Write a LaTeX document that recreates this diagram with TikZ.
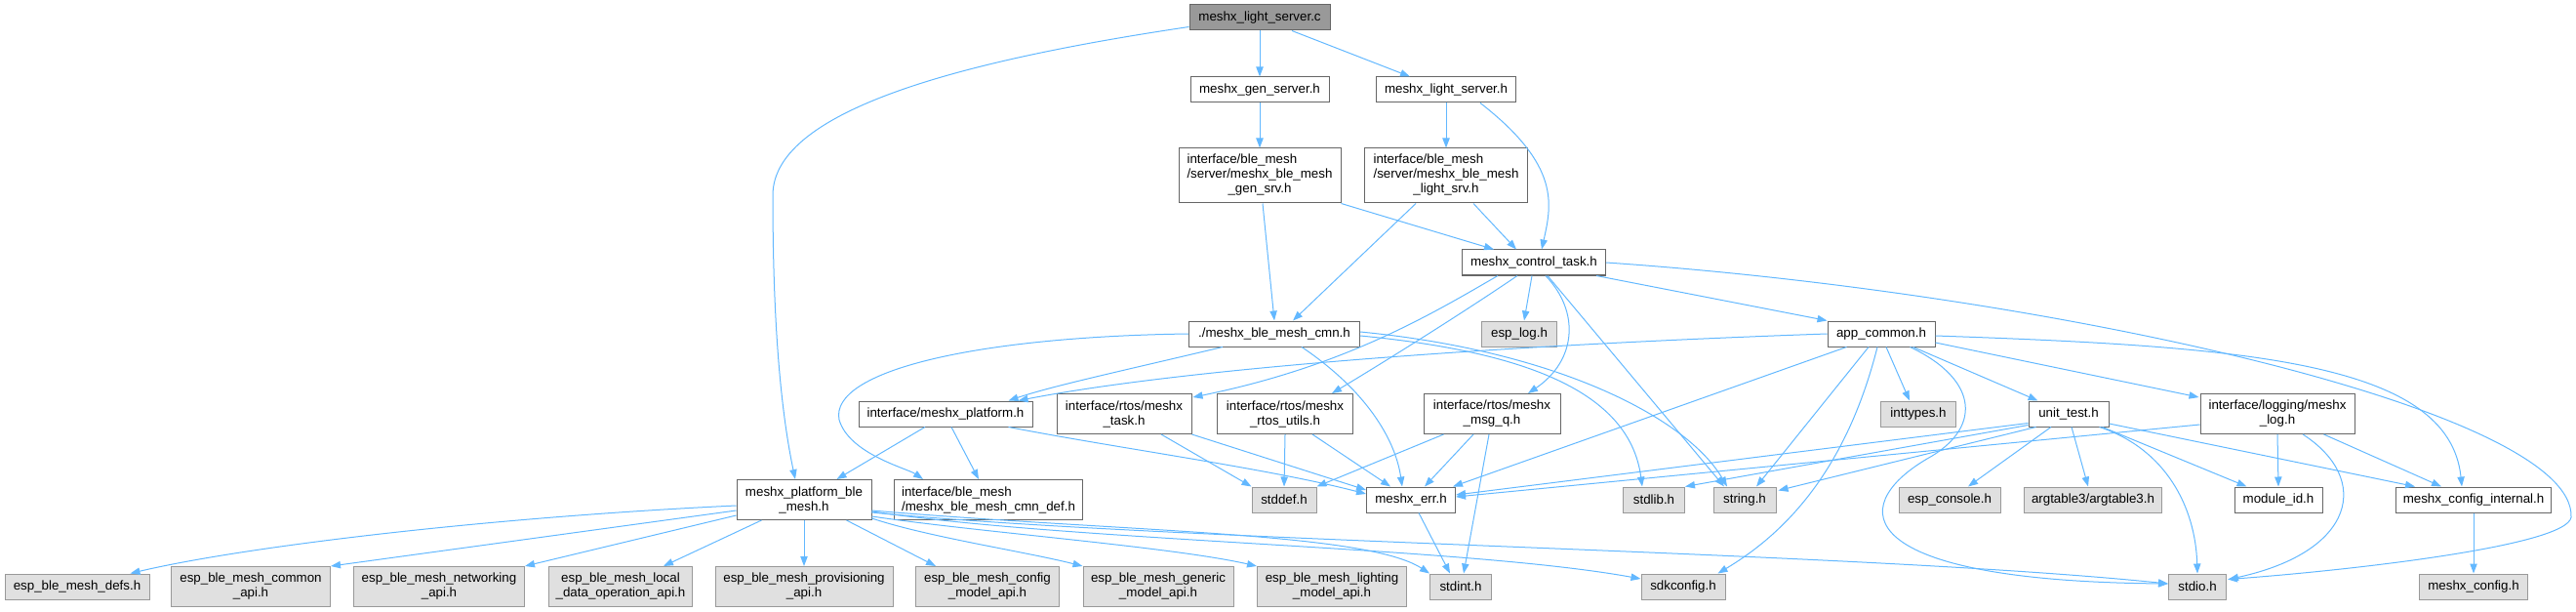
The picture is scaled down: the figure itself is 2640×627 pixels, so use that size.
\documentclass[tikz,border=0pt]{standalone}
\usepackage{fontspec}
\setmainfont{Liberation Sans}
\usetikzlibrary{arrows.meta,calc}
\definecolor{edgec}{HTML}{63B8FF}
\definecolor{bord}{HTML}{666666}
\definecolor{gbord}{HTML}{999999}
\definecolor{gfill}{HTML}{E0E0E0}
\definecolor{rootfill}{HTML}{999999}
\begin{document}
\begin{tikzpicture}[x=0.75pt,y=-0.75pt,
  base/.style={rectangle, line width=0.75pt, inner sep=0pt, minimum height=19.5pt,
    font=\fontsize{10}{11.25}\selectfont, align=center, text=black},
  wbox/.style={base, draw=bord, fill=white},
  gbox/.style={base, draw=gbord, fill=gfill},
  rootbox/.style={base, draw=bord, fill=rootfill},
  two/.style={minimum height=30.75pt},
  three/.style={minimum height=42pt},
  edge/.style={draw=edgec, line width=0.75pt, -{Triangle[length=7.5pt,width=5.5pt]}},
]
\useasboundingbox (0,0) rectangle (2640,627);

% ---------- nodes ----------
\node[rootbox, minimum width=108pt] (c) at (1291,18) {meshx\_light\_server.c};
\node[wbox, minimum width=106.5pt] (gens) at (1291,92) {meshx\_gen\_server.h};
\node[wbox, minimum width=107.25pt] (lights) at (1482,92) {meshx\_light\_server.h};
\node[wbox, three, minimum width=124.5pt] (gensrv) at (1291,180)
  {\begin{tabular}{@{}l@{}}interface/ble\_mesh\\/server/meshx\_ble\_mesh\\\multicolumn{1}{@{}c@{}}{\_gen\_srv.h}\end{tabular}};
\node[wbox, three, minimum width=125.25pt] (lightsrv) at (1482,180)
  {\begin{tabular}{@{}l@{}}interface/ble\_mesh\\/server/meshx\_ble\_mesh\\\multicolumn{1}{@{}c@{}}{\_light\_srv.h}\end{tabular}};
\node[wbox, minimum width=110.25pt] (ctask) at (1572,269) {meshx\_control\_task.h};
\node[wbox, minimum width=131.25pt] (cmn) at (1306,342) {./meshx\_ble\_mesh\_cmn.h};
\node[gbox, minimum width=57.75pt] (eslog) at (1557,342) {esp\_log.h};
\node[wbox, minimum width=82.5pt] (app) at (1928,342) {app\_common.h};

\node[wbox, minimum width=133.5pt] (plat) at (969,424) {interface/meshx\_platform.h};
\node[wbox, two, minimum width=103.5pt] (rtask) at (1152,424) {interface/rtos/meshx\\\_task.h};
\node[wbox, two, minimum width=104.25pt] (rutils) at (1317,424) {interface/rtos/meshx\\\_rtos\_utils.h};
\node[wbox, two, minimum width=105pt] (msgq) at (1529,424) {interface/rtos/meshx\\\_msg\_q.h};
\node[gbox, minimum width=57.75pt] (inttypes) at (1966,424) {inttypes.h};
\node[wbox, minimum width=61.5pt] (unit) at (2120,424) {unit\_test.h};
\node[wbox, two, minimum width=118.5pt] (log) at (2334,424) {interface/logging/meshx\\\_log.h};

\node[wbox, two, minimum width=103.5pt] (pble) at (824,512) {meshx\_platform\_ble\\\_mesh.h};
\node[wbox, two, minimum width=144.75pt, align=left] (cmndef) at (1013,512) {interface/ble\_mesh\\/meshx\_ble\_mesh\_cmn\_def.h};
\node[gbox, minimum width=49.5pt] (stddef) at (1316,512) {stddef.h};
\node[wbox, minimum width=68.25pt] (err) at (1446,512) {meshx\_err.h};
\node[gbox, minimum width=47.25pt] (stdlib) at (1695,512) {stdlib.h};
\node[gbox, minimum width=48pt] (string) at (1788,512) {string.h};
\node[gbox, minimum width=78pt] (console) at (1998,512) {esp\_console.h};
\node[gbox, minimum width=105.75pt] (argt) at (2145,512) {argtable3/argtable3.h};
\node[wbox, minimum width=67.5pt] (modid) at (2335,512) {module\_id.h};
\node[wbox, minimum width=119.25pt] (cfgint) at (2535,512) {meshx\_config\_internal.h};

\node[gbox, minimum width=111pt] (defs) at (79,601) {esp\_ble\_mesh\_defs.h};
\node[gbox, two, minimum width=122.25pt] (common) at (257,601) {esp\_ble\_mesh\_common\\\_api.h};
\node[gbox, two, minimum width=131.25pt] (net) at (450,601) {esp\_ble\_mesh\_networking\\\_api.h};
\node[gbox, two, minimum width=110.25pt] (local) at (636,601) {esp\_ble\_mesh\_local\\\_data\_operation\_api.h};
\node[gbox, two, minimum width=136.5pt] (prov) at (824,601) {esp\_ble\_mesh\_provisioning\\\_api.h};
\node[gbox, two, minimum width=110.25pt] (cfgmodel) at (1012,601) {esp\_ble\_mesh\_config\\\_model\_api.h};
\node[gbox, two, minimum width=115.5pt] (generic) at (1187,601) {esp\_ble\_mesh\_generic\\\_model\_api.h};
\node[gbox, two, minimum width=114.75pt] (lighting) at (1365,601) {esp\_ble\_mesh\_lighting\\\_model\_api.h};
\node[gbox, minimum width=47.25pt] (stdint) at (1497,601) {stdint.h};
\node[gbox, minimum width=64.5pt] (sdkcfg) at (1725,601) {sdkconfig.h};
\node[gbox, minimum width=44.25pt] (stdio) at (2252,601) {stdio.h};
\node[gbox, minimum width=83.25pt] (mcfg) at (2535,601) {meshx\_config.h};

% ---------- edges ----------
% root
\draw[edge] ($(c.south west)+(0,-4)$) .. controls (1000,60) and (792,110) .. (792,200)
  .. controls (792,330) and (800,420) .. ($(pble.north)+(-9,0)$);
\draw[edge] (c.south) -- (gens.north);
\draw[edge] ($(c.south)+(33,0)$) -- ($(lights.north)+(-37,0)$);
\draw[edge] (gens.south) -- (gensrv.north);
\draw[edge] (lights.south) -- (lightsrv.north);
\draw[edge] ($(lights.south)+(35,0)$) .. controls (1600,170) and (1590,210) .. ($(ctask.north)+(8,0)$);
\draw[edge] (gensrv.south east) -- ($(ctask.north)+(-41,0)$);
\draw[edge] ($(lightsrv.south)+(28,0)$) -- ($(ctask.north)+(-18,0)$);
\draw[edge] ($(gensrv.south)+(3,0)$) -- (cmn.north);
\draw[edge] ($(lightsrv.south)+(-31,0)$) -- ($(cmn.north)+(19,0)$);

% control task
\draw[edge] ($(ctask.south)+(-37,0)$) .. controls (1470,320) and (1380,375) .. ($(rtask.north east)+(1,4)$);
\draw[edge] ($(ctask.south)+(-17,0)$) .. controls (1500,320) and (1420,370) .. ($(rutils.north)+(48,0)$);
\draw[edge] ($(ctask.south)+(-2,0)$) -- ($(eslog.north)+(5,0)$);
\draw[edge] ($(ctask.south)+(12,0)$) .. controls (1620,320) and (1615,370) .. ($(msgq.north)+(37,0)$);
\draw[edge] ($(ctask.south)+(14,0)$) -- ($(string.north)+(-21,0)$);
\draw[edge] ($(ctask.south east)+(-10,0)$) -- (app.north west);
\draw[edge] (ctask.east) .. controls (2100,300) and (2640,420) .. (2635,530)
  .. controls (2630,560) and (2400,585) .. ($(stdio.north east)+(1,6)$);

% cmn
\draw[edge] ($(cmn.south west)+(35,0)$) .. controls (1150,380) and (1080,395) .. ($(plat.north east)+(-25,0)$);
\draw[edge] (cmn.west) .. controls (1000,345) and (850,380) .. (860,430)
  .. controls (870,465) and (930,480) .. ($(cmndef.north west)+(30,0)$);
\draw[edge] ($(cmn.south)+(28,0)$) .. controls (1400,400) and (1430,450) .. ($(err.north)+(-9,0)$);
\draw[edge] ($(cmn.east)+(0,2)$) .. controls (1560,360) and (1670,400) .. ($(stdlib.north)+(-12,0)$);
\draw[edge] ($(cmn.east)+(0,-2)$) .. controls (1600,360) and (1730,430) .. ($(string.north)+(-18,0)$);

% app_common
\draw[edge] (app.west) .. controls (1500,355) and (1200,380) .. ($(plat.north east)+(-15,0)$);
\draw[edge] ($(app.south west)+(20,0)$) -- ($(err.north east)+(-3,0)$);
\draw[edge] ($(app.south)+(-13,0)$) -- ($(string.north)+(12,0)$);
\draw[edge] ($(app.south)+(-4,0)$) .. controls (1895,470) and (1840,540) .. ($(sdkcfg.north east)+(-8,0)$);
\draw[edge] ($(app.south)+(5,0)$) -- ($(inttypes.north)+(-9,0)$);
\draw[edge] ($(app.south east)+(-26,0)$) .. controls (2030,390) and (2030,440) .. (1975,470)
  .. controls (1890,520) and (1900,595) .. ($(stdio.west)+(0,-3)$);
\draw[edge] ($(app.south east)+(-23,0)$) -- ($(unit.north west)+(10,0)$);
\draw[edge] ($(app.east)+(0,9)$) -- ($(log.north west)+(-1,4)$);
\draw[edge] ($(app.east)+(0,2)$) .. controls (2300,355) and (2510,370) .. ($(cfgint.north)+(-12,0)$);

% unit_test
\draw[edge] ($(unit.south west)+(0,-4)$) -- ($(err.east)+(0,-5)$);
\draw[edge] ($(unit.south west)+(0,-2)$) -- (stdlib.north east);
\draw[edge] ($(unit.south west)+(8,0)$) -- ($(string.north east)+(2,4)$);
\draw[edge] ($(unit.south)+(-18,0)$) -- ($(console.north)+(19,0)$);
\draw[edge] ($(unit.south)+(3,0)$) -- ($(argt.north)+(-5,0)$);
\draw[edge] ($(unit.south east)+(-10,0)$) .. controls (2220,460) and (2250,520) .. (stdio.north);
\draw[edge] ($(unit.south east)+(-7,0)$) -- ($(modid.north west)+(13,0)$);
\draw[edge] ($(unit.east)+(0,10)$) -- ($(cfgint.north west)+(20,0)$);

% log
\draw[edge] ($(log.west)+(0,11)$) -- ($(err.east)+(0,-3)$);
\draw[edge] (log.south) -- (modid.north);
\draw[edge] ($(log.south)+(26,0)$) .. controls (2430,490) and (2415,565) .. ($(stdio.north east)+(2,6)$);
\draw[edge] ($(log.south east)+(-32,0)$) -- ($(cfgint.north west)+(47,0)$);
\draw[edge] (cfgint.south) -- (mcfg.north);

% rtos
\draw[edge] ($(rtask.south)+(38,0)$) -- (stddef.north west);
\draw[edge] (rtask.south east) -- ($(err.west)+(0,-10)$);
\draw[edge] (rutils.south) -- (stddef.north);
\draw[edge] ($(rutils.south)+(28,0)$) -- ($(err.north)+(-21,0)$);
\draw[edge] ($(msgq.south west)+(21,0)$) -- (stddef.north east);
\draw[edge] ($(msgq.south)+(-19,0)$) -- ($(err.north)+(14,0)$);
\draw[edge] ($(msgq.south)+(-3,0)$) -- ($(stdint.north)+(3,0)$);

% platform
\draw[edge] ($(plat.south)+(-21,0)$) -- ($(pble.north east)+(-36,0)$);
\draw[edge] ($(plat.south)+(6,0)$) -- ($(cmndef.north)+(-10,0)$);
\draw[edge] ($(plat.south east)+(-25,0)$) .. controls (1150,460) and (1300,480) .. ($(err.west)+(0,-6)$);
\draw[edge] ($(err.south)+(8,0)$) -- ($(stdint.north)+(-11,0)$);

% platform ble mesh
\draw[edge] ($(pble.west)+(0,6)$) .. controls (500,530) and (250,560) .. ($(defs.north east)+(-20,0)$);
\draw[edge] ($(pble.west)+(0,11)$) -- (common.north east);
\draw[edge] ($(pble.south west)+(0,-5)$) -- (net.north east);
\draw[edge] ($(pble.south west)+(26,0)$) -- ($(local.north)+(44,0)$);
\draw[edge] (pble.south) -- (prov.north);
\draw[edge] ($(pble.south east)+(-26,0)$) -- ($(cfgmodel.north west)+(21,0)$);
\draw[edge] ($(pble.south east)+(0,-2)$) .. controls (950,550) and (1050,565) .. (generic.north west);
\draw[edge] ($(pble.south east)+(0,-4)$) .. controls (1000,545) and (1200,560) .. (lighting.north west);
\draw[edge] ($(pble.east)+(0,11)$) .. controls (1150,545) and (1400,545) .. (stdint.north west);
\draw[edge] ($(pble.east)+(0,12)$) .. controls (1100,555) and (1500,560) .. ($(sdkcfg.west)+(0,-8)$);
\draw[edge] ($(pble.east)+(0,13)$) .. controls (1200,555) and (1900,565) .. ($(stdio.west)+(0,-3)$);
\end{tikzpicture}
\end{document}
